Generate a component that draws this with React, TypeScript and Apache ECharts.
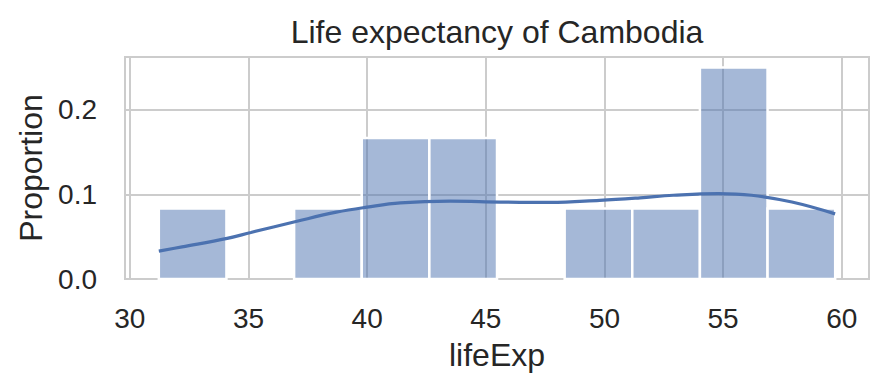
import React, { useEffect, useRef } from "react";
import * as echarts from "echarts";

const titleText = "Life expectancy of Cambodia";
const xName = "lifeExp";
const yName = "Proportion";

const binEdges = [31.22, 34.07, 36.921, 39.771, 42.621, 45.472, 48.322, 51.172, 54.022, 56.873, 59.723];
const proportions = [0.0833, 0, 0.0833, 0.1667, 0.1667, 0, 0.0833, 0.0833, 0.25, 0.0833];

const kdeX = [31.22, 32.2, 34.1, 35.1, 37.0, 38.7, 40.0, 41.4, 43.5, 45.6, 47.7, 49.8, 51.5, 52.9, 54.8, 56.2, 57.9, 59.72];
const kdeY = [0.033, 0.038, 0.048, 0.055, 0.068, 0.079, 0.085, 0.09, 0.092, 0.091, 0.0905, 0.093, 0.096, 0.099, 0.101, 0.099, 0.091, 0.077];

const xMin = 29.795;
const xMax = 61.148;
const yMin = 0;
const yMax = 0.2625;

const FONT = '"Liberation Sans", Arial, sans-serif';
const TEXT = "#262626";
const GRID = "#cccccc";

export default function App() {
  const ref = useRef<HTMLDivElement>(null);
  useEffect(() => {
    if (!ref.current) return;
    const chart = echarts.init(ref.current, undefined, { renderer: "svg" });
    const barData = proportions.map((p, i) => [binEdges[i], binEdges[i + 1], p]);
    const lineData = kdeX.map((x, i) => [x, kdeY[i]]);
    chart.setOption({
      animation: false,
      backgroundColor: "#ffffff",
      textStyle: { fontFamily: FONT },
      title: {
        text: titleText,
        left: 497,
        top: 16,
        padding: 0,
        textAlign: "center",
        textStyle: { fontFamily: FONT, fontSize: 32, fontWeight: "normal", color: TEXT, lineHeight: 32 },
      },
      grid: {
        left: 125,
        right: 19,
        top: 57,
        bottom: 113,
        show: true,
        borderColor: GRID,
        borderWidth: 2,
        backgroundColor: "transparent",
      },
      xAxis: {
        type: "value",
        min: xMin,
        max: xMax,
        splitNumber: 6,
        minInterval: 5,
        maxInterval: 5,
        name: xName,
        nameLocation: "middle",
        nameGap: 60,
        nameTextStyle: { fontFamily: FONT, fontSize: 32, color: TEXT, lineHeight: 32 },
        axisLine: { show: false },
        axisTick: { show: false },
        axisLabel: {
          fontFamily: FONT,
          fontSize: 28,
          color: TEXT,
          margin: 25,
          lineHeight: 28,
          showMinLabel: false,
          showMaxLabel: false,
          formatter: (v: number) => (Math.abs(v / 5 - Math.round(v / 5)) < 1e-6 ? String(Math.round(v)) : ""),
        },
        splitLine: { show: true, lineStyle: { color: GRID, width: 2 } },
      },
      yAxis: {
        type: "value",
        min: yMin,
        max: yMax,
        minInterval: 0.1,
        maxInterval: 0.1,
        name: yName,
        nameLocation: "middle",
        nameGap: 77,
        nameTextStyle: { fontFamily: FONT, fontSize: 32, color: TEXT, lineHeight: 32 },
        axisLine: { show: false },
        axisTick: { show: false },
        axisLabel: {
          fontFamily: FONT,
          fontSize: 28,
          color: TEXT,
          margin: 28,
          showMaxLabel: false,
          formatter: (v: number) => (Math.abs(v * 10 - Math.round(v * 10)) < 1e-6 ? v.toFixed(1) : ""),
        },
        splitLine: { show: true, lineStyle: { color: GRID, width: 2 } },
      },
      series: [
        {
          type: "custom",
          data: barData,
          encode: { x: [0, 1], y: 2 },
          renderItem: (params: any, api: any) => {
            const h = api.value(2);
            if (!h) return null;
            const p0 = api.coord([api.value(0), h]);
            const p1 = api.coord([api.value(1), 0]);
            return {
              type: "rect",
              shape: { x: p0[0], y: p0[1], width: p1[0] - p0[0], height: p1[1] - p0[1] },
              style: { fill: "rgba(76,114,176,0.5)", stroke: "#ffffff", lineWidth: 2.5 },
            };
          },
          z: 2,
        },
        {
          type: "line",
          data: lineData,
          smooth: 0.4,
          showSymbol: false,
          symbol: "none",
          lineStyle: { color: "#4c72b0", width: 3.2 },
          z: 3,
        },
      ],
    });
    return () => chart.dispose();
  }, []);
  return (
    <div
      ref={ref}
      style={{ position: "absolute", left: 0, top: 0, width: 888, height: 392 }}
    />
  );
}
